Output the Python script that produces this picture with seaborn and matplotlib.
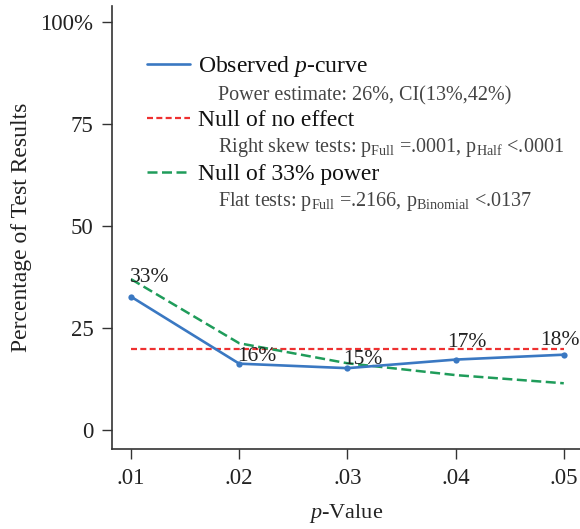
import matplotlib
matplotlib.use("Agg")
import matplotlib.pyplot as plt
import seaborn as sns
import pandas as pd
from matplotlib.lines import Line2D

# ---- data ----
p_values = [0.01, 0.02, 0.03, 0.04, 0.05]
observed = [32.7, 16.3, 15.2, 17.3, 18.5]
null_no_effect = [20, 20, 20, 20, 20]
null_33_power = [37.0, 21.3, 16.4, 13.5, 11.5]
point_labels = ["33%", "16%", "15%", "17%", "18%"]
x_tick_labels = [".01", ".02", ".03", ".04", ".05"]
y_ticks = [0, 25, 50, 75, 100]
y_tick_labels = ["0", "25", "50", "75", "100%"]

legend_main = ["Observed $p$-curve", "Null of no effect", "Null of 33% power"]
legend_sub = [
    "Power estimate: 26%, CI(13%,42%)",
    r"Right skew tests: p$_{\mathrm{Full}}$ =.0001, p$_{\mathrm{Half}}$ <.0001",
    r"Flat tests: p$_{\mathrm{Full}}$ =.2166, p$_{\mathrm{Binomial}}$ <.0137",
]

sns.set_theme(style="white")
plt.rcParams["font.family"] = ["Liberation Serif", "DejaVu Serif"]
plt.rcParams["mathtext.fontset"] = "custom"
plt.rcParams["mathtext.rm"] = "Liberation Serif"
plt.rcParams["mathtext.it"] = "Liberation Serif:italic"
plt.rcParams["mathtext.bf"] = "Liberation Serif:bold"

BLUE = "#3a78c2"
RED = "#ee3030"
GREEN = "#1f9c5a"
RED_DASH = [2.7, 1.5]
GREEN_DASH = [4.0, 1.8]

df = pd.DataFrame({"p": p_values, "obs": observed,
                   "null0": null_no_effect, "null33": null_33_power})

fig = plt.figure(figsize=(5.8, 5.29), dpi=100)
ax = fig.add_axes([112 / 580, 1 - 449 / 529, 468 / 580, 443 / 529])

sns.lineplot(data=df, x="p", y="null0", ax=ax, color=RED, linewidth=1.6,
             zorder=2)
ax.lines[-1].set_dashes(RED_DASH)
sns.lineplot(data=df, x="p", y="null33", ax=ax, color=GREEN, linewidth=1.8,
             zorder=3)
ax.lines[-1].set_dashes(GREEN_DASH)
sns.lineplot(data=df, x="p", y="obs", ax=ax, color=BLUE, linewidth=1.9,
             marker="o", markersize=4.5, markeredgewidth=0, zorder=4)

# point labels
offsets = [(-1, 15), (-2, 3), (-4, 4), (-8, 13), (-24, 10)]
for xv, yv, lab, off in zip(p_values, observed, point_labels, offsets):
    ax.annotate(lab, (xv, yv), xytext=off, textcoords="offset pixels",
                ha="left", va="baseline", fontsize=15.5, color="#222222",
                zorder=5)

ax.set_xlim(0.00824, 0.0515)
ax.set_ylim(-4.6, 103.9)
ax.set_xticks(p_values)
ax.set_xticklabels(x_tick_labels)
ax.set_yticks(y_ticks)
ax.set_yticklabels(y_tick_labels)
ax.tick_params(axis="both", direction="out", length=7, width=1.0,
               color="#333333", labelsize=16.5, labelcolor="#222222",
               left=True, bottom=True)
ax.tick_params(axis="x", pad=7)
ax.tick_params(axis="y", pad=6.5)
for s in ["top", "right"]:
    ax.spines[s].set_visible(False)
for s in ["left", "bottom"]:
    ax.spines[s].set_color("#333333")
    ax.spines[s].set_linewidth(1.2)

ax.set_xlabel("$p$-Value", fontsize=16, color="#222222", labelpad=9)
ax.set_ylabel("Percentage of Test Results", fontsize=17, color="#222222",
              labelpad=6)

# legend
handles = [
    Line2D([], [], color=BLUE, linewidth=1.9),
    Line2D([], [], color="none"),
    Line2D([], [], color=RED, linewidth=1.6, dashes=RED_DASH),
    Line2D([], [], color="none"),
    Line2D([], [], color=GREEN, linewidth=1.8, dashes=GREEN_DASH),
    Line2D([], [], color="none"),
]
labels = []
for m, s in zip(legend_main, legend_sub):
    labels.append(m)
    labels.append("    " + s)
leg = ax.legend(handles, labels, loc="upper left",
                bbox_to_anchor=((147 - 112) / 468, 1 - (54 - 6) / 443),
                frameon=False, borderpad=0, borderaxespad=0,
                handlelength=1.82, handletextpad=0.34, labelspacing=0.19,
                fontsize=17)
for i, t in enumerate(leg.get_texts()):
    if i % 2 == 1:
        t.set_fontsize(14.5)
        t.set_color("#444444")
    else:
        t.set_color("#111111")

fig.savefig("out.png", dpi=100)
